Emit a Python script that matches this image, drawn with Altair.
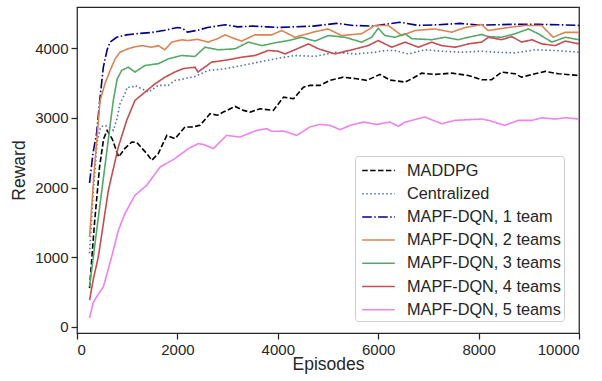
import altair as alt
import pandas as pd

series_names = ["MADDPG", "Centralized", "MAPF-DQN, 1 team", "MAPF-DQN, 2 teams",
                "MAPF-DQN, 3 teams", "MAPF-DQN, 4 teams", "MAPF-DQN, 5 teams"]
x_ticks = [0, 2000, 4000, 6000, 8000, 10000]
y_ticks = [0, 1000, 2000, 3000, 4000]

maddpg_ep = [250, 350, 450, 530, 600, 700, 830, 950, 1090, 1190, 1300, 1400, 1490, 1620, 1790,
             1955, 2150, 2290, 2450, 2650, 2800, 2915, 3150, 3315, 3450, 3645, 3910, 4115, 4315,
             4510, 4640, 4840, 5040, 5305, 5570, 5770, 6035, 6235, 6400, 6535, 6670, 6865, 7130,
             7465, 7795, 8060, 8260, 8460, 8725, 8855, 9125, 9325, 9590, 10000]
maddpg_val = [555, 1500, 2300, 2700, 2820, 2700, 2440, 2560, 2654, 2650, 2560, 2480, 2392, 2490, 2750,
              2703, 2870, 2870, 2894, 3061, 3040, 3085, 3166, 3109, 3085, 3133, 3109, 3300, 3277,
              3443, 3468, 3468, 3540, 3587, 3564, 3540, 3626, 3545, 3530, 3515, 3564, 3644, 3626,
              3644, 3611, 3550, 3550, 3660, 3635, 3587, 3635, 3670, 3635, 3611]

central_ep = [250, 330, 400, 470, 560, 650, 725, 800, 855, 955, 1000, 1090, 1155, 1290, 1420, 1620,
              1820, 1950, 2115, 2350, 2615, 2950, 3285, 3610, 3945, 4340, 4740, 5140, 5540, 5935,
              6135, 6335, 6600, 6930, 7265, 7665, 8060, 8330, 8725, 9125, 9525, 10000]
central_val = [1057, 2000, 2650, 2870, 2894, 2860, 2822, 3000, 3200, 3350, 3443, 3440, 3468, 3420, 3372, 3468,
               3468, 3539, 3560, 3597, 3683, 3707, 3754, 3802, 3850, 3898, 3885, 3945, 3920, 3945,
               3970, 3970, 3920, 3980, 3960, 3945, 3960, 3945, 3935, 3980, 3970, 3945]

team1_ep = [250, 320, 390, 460, 525, 600, 657, 790, 990, 1250, 1500, 1750, 2000, 2100, 2200, 2400,
            2600, 2950, 3200, 3500, 3800, 4000, 4300, 4700, 5170, 5500, 5900, 6430, 6800, 7200,
            7630, 8000, 8400, 8625, 9200, 9600, 10000]
team1_val = [2066, 2500, 2777, 3300, 3730, 3980, 4090, 4160, 4195, 4215, 4230, 4260, 4300, 4290, 4235, 4260,
             4300, 4340, 4310, 4320, 4310, 4300, 4310, 4320, 4360, 4330, 4320, 4376, 4330, 4340,
             4360, 4335, 4340, 4345, 4345, 4340, 4330]

team2_ep = [250, 350, 460, 560, 660, 760, 855, 1000, 1120, 1290, 1490, 1620, 1750, 1885, 2085, 2210,
            2400, 2610, 2800, 2950, 3100, 3280, 3545, 3880, 4080, 4340, 4740, 5000, 5270, 5670,
            5935, 6200, 6470, 6735, 7130, 7465, 7730, 8060, 8190, 8590, 8925, 9255, 9485, 9720, 10000]
team2_val = [1291, 2300, 3252, 3500, 3683, 3850, 3945, 3990, 4017, 4040, 4017, 4040, 3980, 4090, 4123, 4113,
             4130, 4090, 4140, 4195, 4150, 4105, 4195, 4195, 4257, 4160, 4240, 4280, 4185, 4210,
             4330, 4330, 4185, 4257, 4280, 4233, 4300, 4342, 4257, 4300, 4330, 4330, 4160, 4230, 4230]

team3_ep = [250, 400, 550, 650, 723, 800, 890, 1020, 1155, 1355, 1620, 1820, 2085, 2350, 2550, 2815,
            3150, 3410, 3680, 3945, 4210, 4475, 4740, 5005, 5340, 5670, 5870, 6000, 6135, 6335,
            6535, 6670, 7065, 7330, 7595, 7860, 8060, 8195, 8460, 8725, 8990, 9190, 9460, 9725, 10000]
team3_val = [574, 1430, 2270, 2840, 3250, 3560, 3683, 3730, 3660, 3755, 3780, 3850, 3898, 3884, 4017, 3980,
             3994, 4090, 4040, 4080, 4113, 4160, 4105, 4185, 4160, 4090, 4160, 4290, 4185, 4160,
             4210, 4140, 4125, 4160, 4125, 4170, 4200, 4170, 4160, 4210, 4280, 4210, 4090, 4160, 4125]

team4_ep = [250, 330, 425, 625, 823, 990, 1155, 1355, 1555, 1755, 1950, 2115, 2350, 2410, 2680, 3010,
            3280, 3545, 3810, 4010, 4140, 4340, 4610, 4810, 5140, 5470, 5800, 6000, 6270, 6535,
            6800, 7065, 7265, 7530, 7795, 8060, 8195, 8460, 8660, 8860, 9060, 9260, 9525, 9725, 10000]
team4_val = [383, 700, 1004, 1961, 2582, 2966, 3252, 3372, 3492, 3587, 3660, 3710, 3730, 3660, 3802, 3836,
             3874, 3898, 3970, 3960, 3920, 3980, 4065, 3994, 3920, 3980, 4040, 4113, 4017, 4090,
             4017, 4090, 4040, 4017, 4065, 4090, 4160, 4125, 4170, 4090, 4125, 4065, 4040, 4105, 4065]

team5_ep = [250, 320, 390, 525, 690, 825, 955, 1155, 1390, 1655, 1950, 2220, 2415, 2520, 2715, 2980,
            3245, 3580, 3780, 3880, 4115, 4375, 4640, 4840, 5040, 5240, 5440, 5705, 5970, 6235,
            6400, 6535, 6930, 7265, 7530, 7795, 8060, 8195, 8525, 8790, 9060, 9260, 9525, 9725, 10000]
team5_val = [125, 340, 430, 574, 1004, 1387, 1627, 1890, 2033, 2295, 2416, 2560, 2631, 2620, 2560, 2750,
             2726, 2822, 2846, 2808, 2812, 2750, 2870, 2908, 2894, 2832, 2894, 2941, 2908, 2941,
             2880, 2941, 3013, 2918, 2966, 2975, 2985, 2966, 2894, 2966, 2966, 3003, 2985, 3003, 2985]

all_eps = [maddpg_ep, central_ep, team1_ep, team2_ep, team3_ep, team4_ep, team5_ep]
all_vals = [maddpg_val, central_val, team1_val, team2_val, team3_val, team4_val, team5_val]

rows = []
for k, (name, eps, vals) in enumerate(zip(series_names, all_eps, all_vals)):
    for e, v in zip(eps, vals):
        rows.append({"series": name, "episode": e, "reward": v, "k": k})
df = pd.DataFrame(rows)

colors = ["#000000", "#4c72b0", "#00008b", "#dd8452", "#55a868", "#c44e52", "#ee82ee"]
dashes = [[5.5, 2.4], [1.5, 2.5], [9.6, 2.4, 1.5, 2.4], [1, 0], [1, 0], [1, 0], [1, 0]]

FONT = "Liberation Sans"
INK = "#262626"

chart = alt.Chart(df).mark_line(strokeWidth=1.6, clip=True).encode(
    x=alt.X("episode:Q",
            scale=alt.Scale(domain=[0, 10000], nice=False, zero=False),
            axis=alt.Axis(values=x_ticks, title="Episodes", format="d")),
    y=alt.Y("reward:Q",
            scale=alt.Scale(domain=[-90, 4595], nice=False, zero=False),
            axis=alt.Axis(values=y_ticks, title="Reward", format="d")),
    color=alt.Color("series:N", scale=alt.Scale(domain=series_names, range=colors),
                    legend=alt.Legend(title=None)),
    strokeDash=alt.StrokeDash("series:N", scale=alt.Scale(domain=series_names, range=dashes),
                              legend=alt.Legend(title=None)),
    detail="k:O",
).properties(
    width=502, height=326,
    autosize="none",
    padding={"left": 77, "top": 7, "right": 23, "bottom": 48},
).configure_view(
    stroke=INK, strokeWidth=1.25
).configure_axis(
    domain=False, grid=False,
    labelFont=FONT, titleFont=FONT, labelFontSize=15, titleFontSize=17.5,
    labelColor=INK, titleColor=INK, tickColor=INK, tickWidth=1.25, tickSize=6,
    labelPadding=3, titleFontWeight="normal",
).configure_axisY(
    titlePadding=6
).configure_axisX(
    titlePadding=-2
).configure_legend(
    orient="none", legendX=278, legendY=149,
    symbolType="M-1.55,0L1.55,0", symbolSize=441, symbolStrokeWidth=1.5,
    labelFont=FONT, labelFontSize=16.3, labelColor=INK,
    padding=3, rowPadding=3.2, symbolOffset=9, labelOffset=17,
    fillColor="rgba(255,255,255,0.8)", strokeColor="#cccccc", cornerRadius=3,
    labelLimit=400,
)

chart.save("out.html", embed_options={"renderer": "svg", "actions": False})
